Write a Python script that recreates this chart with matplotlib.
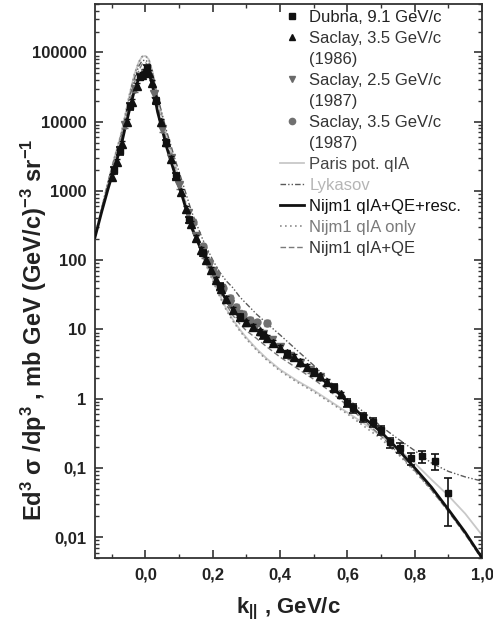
import numpy as np
import matplotlib
matplotlib.use("Agg")
import matplotlib.pyplot as plt
from matplotlib.ticker import FixedLocator, FuncFormatter, LogLocator, NullFormatter, MultipleLocator
from matplotlib.lines import Line2D

plt.rcParams['font.family'] = ['Liberation Sans', 'DejaVu Sans']
plt.rcParams['mathtext.fontset'] = 'custom'
plt.rcParams['mathtext.rm'] = 'Liberation Sans:bold'
plt.rcParams['mathtext.it'] = 'Liberation Sans:bold'
plt.rcParams['mathtext.bf'] = 'Liberation Sans:bold'

# ---------------- data ----------------
# Dubna, 9.1 GeV/c (squares with error bars)
dubna_k = [-0.095, -0.075, -0.045, -0.015, 0.005, 0.03, 0.06, 0.09, 0.13, 0.17, 0.22, 0.28, 0.35,
           0.42, 0.50, 0.56, 0.60, 0.618, 0.645, 0.675, 0.70, 0.728, 0.755, 0.788, 0.823, 0.86, 0.898]
dubna_y = [2000, 3800, 16600, 43700, 60300, 20000, 5010, 1660, 380, 126, 41.7, 15.1, 8.32,
           4.37, 2.40, 1.45, 0.871, 0.724, 0.537, 0.457, 0.355, 0.234, 0.195, 0.138, 0.148, 0.126, 0.0427]
dubna_err = [240, 456, 2000, 4400, 6000, 2000, 500, 166, 38, 12.6, 5.0, 1.8, 1.0,
             0.52, 0.29, 0.17, 0.12, 0.10, 0.08, 0.07, 0.053, 0.04, 0.033, 0.028, 0.030, 0.032, 0.028]

# Saclay, 3.5 GeV/c (1986) (up triangles)
sac86_k = [-0.10, -0.085, -0.07, -0.055, -0.04, -0.025, -0.01, 0.0, 0.01, 0.02, 0.03, 0.045, 0.06,
           0.075, 0.09, 0.105, 0.12, 0.135, 0.15, 0.165, 0.18, 0.195, 0.21, 0.225, 0.24, 0.26,
           0.28, 0.30, 0.32, 0.34, 0.36, 0.38, 0.40, 0.42, 0.44, 0.46, 0.48, 0.50, 0.52, 0.54, 0.56, 0.58]
sac86_y = [1585, 2630, 4790, 10000, 19050, 33100, 47900, 52500, 50100, 36300, 20900, 10000, 5010,
           2880, 1660, 955, 550, 331, 209, 141, 100, 72.4, 52.5, 38.0, 27.5, 19.1,
           15.1, 12.6, 11.0, 9.33, 7.59, 6.31, 5.37, 4.57, 3.98, 3.39, 2.88, 2.45, 2.09, 1.74, 1.41, 1.15]

# Saclay, 2.5 GeV/c (1987) (down triangles)
sac87a_k = [-0.06, -0.03, 0.0, 0.025, 0.05, 0.075, 0.10, 0.125, 0.15, 0.175, 0.20, 0.225, 0.25,
            0.275, 0.30, 0.325, 0.35, 0.375, 0.40, 0.43, 0.46, 0.49, 0.52]
sac87a_y = [8900, 29500, 50100, 25100, 7940, 2950, 1200, 479, 224, 120, 69.2, 39.8, 23.4,
            16.6, 13.2, 11.0, 8.71, 6.92, 5.50, 4.17, 3.31, 2.63, 2.04]

# Saclay, 3.5 GeV/c (1987) (circles)
sac87b_k = [0.14, 0.17, 0.19, 0.21, 0.23, 0.25, 0.27, 0.29, 0.31, 0.33, 0.36]
sac87b_y = [355, 158, 95.5, 63.1, 39.8, 28.2, 21.4, 16.6, 13.8, 12.6, 12.3]

# theory curves (log10 of cross section) on a common k grid
curve_k = [-0.15, -0.13, -0.11, -0.09, -0.072, -0.06, -0.048, -0.033, -0.02, -0.01, 0.0, 0.01,
           0.021, 0.036, 0.05, 0.063, 0.087, 0.11, 0.137, 0.17, 0.20, 0.22, 0.24, 0.26, 0.28,
           0.30, 0.33, 0.36, 0.40, 0.45, 0.50, 0.55, 0.60, 0.65, 0.70, 0.75, 0.80, 0.85, 0.90, 0.95, 1.0]
paris_log = [2.35, 2.75, 3.15, 3.52, 3.83, 4.10, 4.38, 4.68, 4.86, 4.94, 4.95, 4.90,
             4.72, 4.34, 4.06, 3.80, 3.38, 3.00, 2.52, 2.06, 1.72, 1.50, 1.30, 1.14, 1.00,
             0.88, 0.72, 0.58, 0.42, 0.26, 0.12, -0.04, -0.20, -0.36, -0.54, -0.72, -0.93, -1.17, -1.40, -1.66, -1.97]
lykasov_log = [2.35, 2.75, 3.15, 3.50, 3.80, 4.06, 4.33, 4.62, 4.80, 4.88, 4.89, 4.85,
               4.70, 4.36, 4.10, 3.86, 3.47, 3.12, 2.70, 2.30, 2.00, 1.83, 1.70, 1.60, 1.47,
               1.37, 1.22, 1.09, 0.92, 0.70, 0.48, 0.24, 0.00, -0.20, -0.40, -0.58, -0.75, -0.93, -1.05, -1.13, -1.19]
resc_log = [2.33, 2.70, 3.05, 3.37, 3.66, 3.92, 4.16, 4.45, 4.62, 4.71, 4.74, 4.71,
            4.52, 4.14, 3.88, 3.63, 3.25, 2.91, 2.47, 2.10, 1.81, 1.60, 1.42, 1.28, 1.18,
            1.10, 1.00, 0.88, 0.72, 0.56, 0.38, 0.18, -0.04, -0.28, -0.48, -0.73, -1.00, -1.28, -1.60, -1.93, -2.30]
qia_log = [2.35, 2.75, 3.15, 3.52, 3.83, 4.10, 4.38, 4.68, 4.86, 4.94, 4.95, 4.90,
           4.72, 4.34, 4.06, 3.80, 3.38, 3.00, 2.52, 2.05, 1.70, 1.48, 1.28, 1.12, 0.98,
           0.86, 0.70, 0.56, 0.40, 0.24, 0.10, -0.06, -0.22, -0.40, -0.58, -0.80, -1.05, -1.32, -1.62, -1.95, -2.32]
qiaqe_log = [2.33, 2.72, 3.10, 3.44, 3.74, 4.00, 4.26, 4.56, 4.74, 4.83, 4.85, 4.81,
             4.62, 4.24, 3.96, 3.71, 3.31, 2.95, 2.49, 2.08, 1.77, 1.55, 1.36, 1.20, 1.08,
             0.98, 0.87, 0.75, 0.60, 0.44, 0.28, 0.10, -0.10, -0.32, -0.54, -0.78, -1.04, -1.32, -1.63, -1.96, -2.32]

y_ticks = [0.01, 0.1, 1, 10, 100, 1000, 10000, 100000]
x_ticks = [0.0, 0.2, 0.4, 0.6, 0.8, 1.0]

# ---------------- figure ----------------
W, H = 493, 621
fig = plt.figure(figsize=(W / 100, H / 100), dpi=100)
L, R, T, B = 95, 482, 4, 558
ax = fig.add_axes([L / W, 1 - B / H, (R - L) / W, (B - T) / H])
ax.set_yscale('log')
ax.set_xlim(-0.15, 1.0)
ax.set_ylim(0.005, 5e5)

ck = np.array(curve_k)
ax.plot(ck, 10 ** np.array(paris_log), color='#c8c8c8', lw=1.3, zorder=2)
ax.plot(ck, 10 ** np.array(lykasov_log), color='#5a5a5a', lw=1.0,
        linestyle=(0, (4, 1.5, 1, 1.5, 1, 1.5)), zorder=2)
ax.plot(ck, 10 ** np.array(qia_log), color='#8c8c8c', lw=1.2, linestyle=(0, (1, 2)), zorder=2)
ax.plot(ck, 10 ** np.array(qiaqe_log), color='#7a7a7a', lw=1.0, linestyle=(0, (4, 2)), zorder=2)
ax.plot(ck, 10 ** np.array(resc_log), color='#111111', lw=2.0, zorder=3)

s87b = np.array(sac87b_y)
ax.errorbar(sac87b_k, sac87b_y, yerr=0.1 * s87b, fmt='o', color='#707070', ms=5,
            elinewidth=1.0, capsize=2, zorder=4)
s87a = np.array(sac87a_y)
ax.errorbar(sac87a_k, sac87a_y, yerr=0.1 * s87a, fmt='v', color='#6a6a6a', ms=5.5,
            elinewidth=1.0, capsize=2, zorder=4)
s86 = np.array(sac86_y)
ax.errorbar(sac86_k, sac86_y, yerr=0.1 * s86, fmt='^', color='#111111', ms=5.5,
            elinewidth=1.0, capsize=2, zorder=5)
ax.errorbar(dubna_k, dubna_y, yerr=dubna_err, fmt='s', color='#111111', ms=5,
            elinewidth=1.2, capsize=3, capthick=1.2, zorder=6)

# ticks
ax.yaxis.set_major_locator(FixedLocator(y_ticks))
ax.yaxis.set_minor_locator(LogLocator(base=10, subs=np.arange(2, 10), numticks=20))
ax.yaxis.set_minor_formatter(NullFormatter())

def yfmt(v, pos):
    if v >= 1:
        return '%d' % round(v)
    return ('%g' % v).replace('.', ',')

ax.yaxis.set_major_formatter(FuncFormatter(yfmt))
ax.xaxis.set_major_locator(FixedLocator(x_ticks))
ax.xaxis.set_minor_locator(MultipleLocator(0.1))
ax.xaxis.set_major_formatter(FuncFormatter(lambda v, p: ('%.1f' % v).replace('.', ',')))

ax.tick_params(which='both', direction='in', top=True, right=True, color='#333333')
ax.tick_params(which='major', length=6, width=1.2, labelsize=12, pad=6)
ax.tick_params(which='minor', length=3, width=1.0)
ax.tick_params(axis='x', which='major', pad=7)
for lab in ax.get_xticklabels() + ax.get_yticklabels():
    lab.set_fontweight('bold')
    lab.set_color('#222222')
for s in ax.spines.values():
    s.set_linewidth(1.3)
    s.set_color('#333333')

ax.set_ylabel(r'Ed$^{3}$ σ /dp$^{3}$ , mb GeV (GeV/c)$^{-3}$ sr$^{-1}$',
              fontsize=17, fontweight='bold', color='#222222')
ax.yaxis.set_label_coords(-0.118, 0.412)
ax.set_xlabel(r'k$_{||}$ , GeV/c', fontsize=16, fontweight='bold', color='#222222')
ax.xaxis.set_label_coords(0.5, -0.068)

# legend (one line per row; continuation rows get an empty handle)
blank = Line2D([], [], ls='none', marker=None)
handles = [
    Line2D([], [], marker='s', color='#111111', ls='none', ms=4.5),
    Line2D([], [], marker='^', color='#111111', ls='none', ms=5),
    blank,
    Line2D([], [], marker='v', color='#6a6a6a', ls='none', ms=5),
    blank,
    Line2D([], [], marker='o', color='#707070', ls='none', ms=4.5),
    blank,
    Line2D([], [], color='#c8c8c8', lw=1.3),
    Line2D([], [], color='#5a5a5a', lw=1.0, linestyle=(0, (4, 1.5, 1, 1.5, 1, 1.5))),
    Line2D([], [], color='#111111', lw=2.0),
    Line2D([], [], color='#8c8c8c', lw=1.2, linestyle=(0, (1, 2))),
    Line2D([], [], color='#7a7a7a', lw=1.0, linestyle=(0, (4, 2))),
]
labels = ['Dubna, 9.1 GeV/c', 'Saclay, 3.5 GeV/c', '(1986)', 'Saclay, 2.5 GeV/c', '(1987)',
          'Saclay, 3.5 GeV/c', '(1987)', 'Paris pot. qIA', 'Lykasov', 'Nijm1 qIA+QE+resc.',
          'Nijm1 qIA only', 'Nijm1 qIA+QE']
text_colors = ['#222222', '#333333', '#333333', '#333333', '#333333', '#333333', '#333333',
               '#444444', '#b5b5b5', '#111111', '#7a7a7a', '#333333']
leg = ax.legend(handles, labels, loc='upper left', bbox_to_anchor=(0.47, 0.995), frameon=False,
                fontsize=12, handlelength=1.4, handletextpad=0.35, labelspacing=0.36,
                borderpad=0.2, borderaxespad=0)
for t, c in zip(leg.get_texts(), text_colors):
    t.set_color(c)

fig.savefig('out.png', dpi=100)
